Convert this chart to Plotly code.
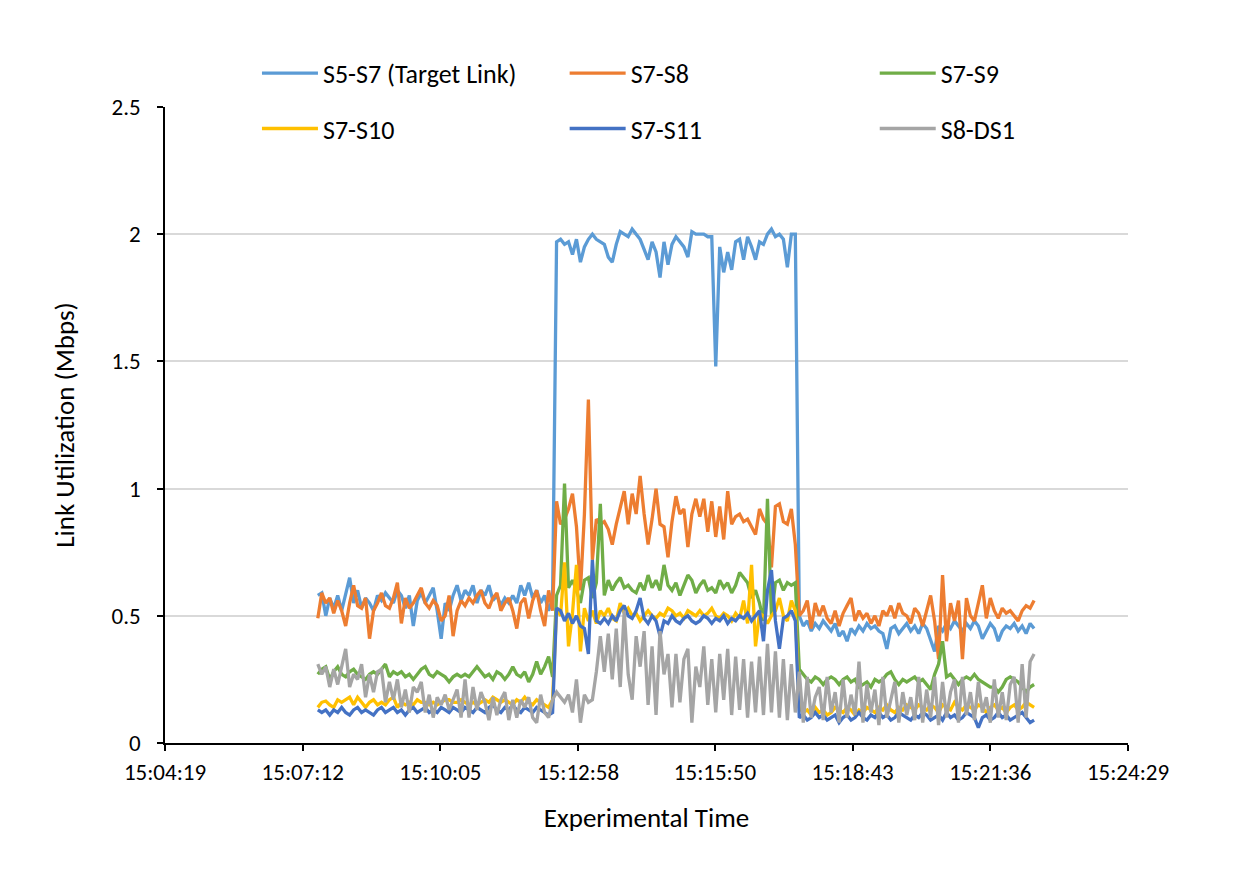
import plotly.graph_objects as go

# ---------------- data ----------------
x_tick_labels = ["15:04:19", "15:07:12", "15:10:05", "15:12:58", "15:15:50", "15:18:43", "15:21:36", "15:24:29"]
start_time = "15:07:31"   # first sample
step_seconds = 5          # sampling interval

s5_s7 = [
    0.58, 0.59, 0.50, 0.57, 0.53, 0.58, 0.52, 0.58, 0.65, 0.55,
    0.60, 0.53, 0.57, 0.55, 0.52, 0.58, 0.56, 0.59, 0.57, 0.55,
    0.60, 0.58, 0.53, 0.58, 0.46, 0.56, 0.59, 0.55, 0.58, 0.61,
    0.52, 0.41, 0.55, 0.52, 0.58, 0.62, 0.56, 0.60, 0.58, 0.62,
    0.55, 0.60, 0.58, 0.62, 0.56, 0.58, 0.54, 0.57, 0.55, 0.58,
    0.55, 0.62, 0.58, 0.63, 0.57, 0.60, 0.55, 0.58, 0.52, 0.57,
    1.97, 1.98, 1.96, 1.97, 1.92, 1.98, 1.89, 1.95, 1.98, 2.00,
    1.98, 1.97, 1.96, 1.91, 1.89, 1.96, 2.01, 2.00, 1.99, 2.02,
    2.00, 1.98, 1.94, 1.90, 1.97, 1.93, 1.83, 1.97, 1.88, 1.96,
    1.99, 1.97, 1.95, 1.91, 2.01, 2.00, 2.00, 2.00, 1.99, 1.99,
    1.48, 1.95, 1.85, 1.93, 1.86, 1.97, 1.98, 1.90, 1.99, 1.95,
    1.90, 1.97, 1.96, 2.00, 2.02, 1.99, 2.00, 1.98, 1.87, 2.00,
    2.00,
    0.50, 0.46, 0.48, 0.44, 0.47, 0.45, 0.48, 0.46, 0.44, 0.47,
    0.42, 0.44, 0.40, 0.45, 0.43, 0.46, 0.44, 0.47, 0.45, 0.46,
    0.44, 0.43, 0.37, 0.45, 0.46, 0.43, 0.45, 0.47, 0.44, 0.46,
    0.43, 0.47, 0.45, 0.40, 0.36, 0.46, 0.44, 0.47, 0.45, 0.48,
    0.46, 0.44, 0.47, 0.45, 0.48, 0.46, 0.41, 0.44, 0.47, 0.45,
    0.40, 0.44, 0.46, 0.45, 0.47, 0.44, 0.46, 0.43, 0.47, 0.45,
]

s7_s8 = [
    0.49, 0.59, 0.55, 0.57, 0.51, 0.56, 0.52, 0.46, 0.55, 0.62,
    0.54, 0.53, 0.57, 0.41, 0.52, 0.55, 0.59, 0.54, 0.53, 0.57,
    0.63, 0.47, 0.57, 0.53, 0.55, 0.58, 0.61, 0.55, 0.53, 0.56,
    0.54, 0.48, 0.50, 0.58, 0.42, 0.52, 0.56, 0.54, 0.57, 0.55,
    0.58, 0.60, 0.55, 0.53, 0.57, 0.59, 0.52, 0.55, 0.57, 0.52,
    0.45, 0.55, 0.57, 0.49, 0.56, 0.60, 0.52, 0.46, 0.60, 0.52,
    0.95, 0.86, 0.88, 0.92, 0.98, 0.85, 0.60, 0.90, 1.35, 0.72,
    0.88, 0.86, 0.87, 0.84, 0.78, 0.86, 0.92, 0.99, 0.86, 0.98,
    0.90, 1.05, 0.90, 0.78, 0.88, 1.00, 0.86, 0.85, 0.73, 0.87,
    0.97, 0.90, 0.92, 0.77, 0.90, 0.96, 0.89, 0.96, 0.83, 0.95,
    0.81, 0.93, 0.80, 0.99, 0.86, 0.89, 0.90, 0.87, 0.88, 0.85,
    0.82, 0.92, 0.88, 0.86, 0.69, 0.93, 0.94, 0.87, 0.86, 0.92,
    0.78,
    0.50, 0.52, 0.56, 0.45, 0.55, 0.50, 0.54, 0.49, 0.47, 0.52,
    0.46, 0.51, 0.54, 0.57, 0.48, 0.52, 0.49, 0.51, 0.47, 0.50,
    0.46, 0.52, 0.50, 0.54, 0.49, 0.55, 0.51, 0.50, 0.47, 0.53,
    0.51, 0.46, 0.52, 0.58, 0.48, 0.33, 0.66, 0.40, 0.55, 0.48,
    0.56, 0.33, 0.57, 0.50, 0.48, 0.55, 0.62, 0.49, 0.57, 0.52,
    0.49, 0.53, 0.51, 0.52, 0.50, 0.48, 0.52, 0.54, 0.53, 0.56,
]

s7_s9 = [
    0.27, 0.29, 0.30, 0.25, 0.28, 0.30, 0.27, 0.26, 0.28, 0.29,
    0.27, 0.26, 0.25, 0.27, 0.28, 0.27, 0.29, 0.31, 0.26, 0.28,
    0.27, 0.28, 0.26, 0.27, 0.25, 0.27, 0.29, 0.30, 0.27, 0.26,
    0.28, 0.27, 0.26, 0.24, 0.26, 0.27, 0.26, 0.27, 0.26, 0.28,
    0.30, 0.28, 0.26, 0.27, 0.25, 0.28, 0.27, 0.25, 0.27, 0.30,
    0.27, 0.26, 0.28, 0.24, 0.27, 0.32, 0.27, 0.30, 0.34, 0.26,
    0.58, 0.62, 1.02, 0.61, 0.64, 0.60, 0.55, 0.64, 0.65, 0.57,
    0.63, 0.94, 0.58, 0.64, 0.60, 0.63, 0.65, 0.61, 0.62, 0.60,
    0.59, 0.63, 0.60, 0.66, 0.61, 0.64, 0.60, 0.70, 0.62, 0.60,
    0.63, 0.58, 0.62, 0.66, 0.64, 0.59, 0.62, 0.64, 0.60, 0.61,
    0.59, 0.64, 0.61, 0.63, 0.59, 0.62, 0.67, 0.65, 0.63, 0.57,
    0.60, 0.55, 0.48, 0.96, 0.50, 0.63, 0.64, 0.60, 0.63, 0.62,
    0.63,
    0.29, 0.27, 0.25, 0.24, 0.26, 0.25, 0.23, 0.25, 0.26, 0.25,
    0.23, 0.25, 0.26, 0.24, 0.25, 0.22, 0.23, 0.24, 0.22, 0.25,
    0.24, 0.25, 0.27, 0.28, 0.25, 0.23, 0.25, 0.24, 0.25, 0.26,
    0.24, 0.25, 0.23, 0.21, 0.27, 0.31, 0.40, 0.26, 0.27, 0.25,
    0.23, 0.25, 0.26, 0.25, 0.27, 0.25, 0.24, 0.23, 0.22, 0.22,
    0.20, 0.22, 0.25, 0.26, 0.25, 0.24, 0.22, 0.20, 0.22, 0.23,
]

s7_s10 = [
    0.14, 0.16, 0.165, 0.15, 0.14, 0.17, 0.16, 0.17, 0.18, 0.15,
    0.18, 0.16, 0.14, 0.16, 0.17, 0.15, 0.16, 0.15, 0.17, 0.18,
    0.14, 0.16, 0.15, 0.16, 0.15, 0.17, 0.16, 0.16, 0.15, 0.16,
    0.15, 0.16, 0.17, 0.17, 0.16, 0.16, 0.17, 0.16, 0.15, 0.16,
    0.15, 0.16, 0.17, 0.16, 0.18, 0.17, 0.16, 0.17, 0.16, 0.15,
    0.17, 0.16, 0.18, 0.16, 0.15, 0.17, 0.16, 0.15, 0.14, 0.17,
    0.53, 0.50, 0.71, 0.38, 0.51, 0.70, 0.36, 0.53, 0.48, 0.52,
    0.47, 0.52, 0.50, 0.53, 0.49, 0.48, 0.55, 0.51, 0.53, 0.50,
    0.51, 0.48, 0.50, 0.52, 0.50, 0.49, 0.51, 0.50, 0.53, 0.52,
    0.50, 0.51, 0.49, 0.52, 0.51, 0.50, 0.52, 0.50, 0.51, 0.53,
    0.50, 0.49, 0.51, 0.50, 0.48, 0.51, 0.49, 0.56, 0.47, 0.70,
    0.38, 0.51, 0.50, 0.47, 0.50, 0.52, 0.57, 0.50, 0.48, 0.56,
    0.52,
    0.14, 0.12, 0.13, 0.11, 0.14, 0.12, 0.13, 0.11, 0.12, 0.14,
    0.13, 0.12, 0.14, 0.13, 0.11, 0.13, 0.12, 0.14, 0.13, 0.12,
    0.14, 0.13, 0.15, 0.13, 0.12, 0.14, 0.13, 0.15, 0.14, 0.13,
    0.15, 0.14, 0.13, 0.15, 0.14, 0.12, 0.15, 0.14, 0.13, 0.16,
    0.14, 0.13, 0.15, 0.14, 0.13, 0.15, 0.14, 0.12, 0.14, 0.15,
    0.13, 0.14, 0.12, 0.14, 0.15, 0.13, 0.14, 0.16, 0.15, 0.14,
]

s7_s11 = [
    0.13, 0.12, 0.13, 0.11, 0.13, 0.12, 0.14, 0.12, 0.11, 0.13,
    0.14, 0.12, 0.13, 0.12, 0.11, 0.13, 0.14, 0.12, 0.13, 0.14,
    0.12, 0.13, 0.11, 0.13, 0.14, 0.12, 0.13, 0.14, 0.12, 0.13,
    0.12, 0.14, 0.13, 0.12, 0.14, 0.13, 0.12, 0.14, 0.13, 0.12,
    0.14, 0.13, 0.12, 0.14, 0.15, 0.13, 0.12, 0.14, 0.13, 0.15,
    0.13, 0.12, 0.14, 0.13, 0.12, 0.14, 0.13, 0.12, 0.11, 0.12,
    0.53, 0.52, 0.48, 0.51, 0.47, 0.50, 0.46, 0.45, 0.35, 0.72,
    0.48, 0.47, 0.49, 0.47, 0.50, 0.48, 0.52, 0.54, 0.50, 0.49,
    0.52, 0.57, 0.49, 0.47, 0.50, 0.48, 0.42, 0.48, 0.47, 0.50,
    0.48, 0.47, 0.49, 0.50, 0.48, 0.47, 0.48, 0.50, 0.49, 0.47,
    0.49, 0.48, 0.50, 0.47, 0.49, 0.48, 0.50, 0.49, 0.51, 0.48,
    0.50, 0.52, 0.40, 0.60, 0.68, 0.48, 0.37, 0.49, 0.50, 0.52,
    0.48,
    0.10, 0.11, 0.09, 0.10, 0.12, 0.10, 0.11, 0.09, 0.10, 0.11,
    0.08, 0.10, 0.11, 0.09, 0.10, 0.12, 0.10, 0.09, 0.11, 0.10,
    0.12, 0.10, 0.11, 0.09, 0.10, 0.12, 0.11, 0.10, 0.09, 0.11,
    0.10, 0.12, 0.11, 0.09, 0.10, 0.11, 0.09, 0.12, 0.10, 0.11,
    0.09, 0.10, 0.12, 0.11, 0.10, 0.06, 0.10, 0.11, 0.09, 0.10,
    0.12, 0.10, 0.11, 0.09, 0.10, 0.11, 0.12, 0.10, 0.08, 0.09,
]

s8_ds1 = [
    0.31, 0.27, 0.30, 0.22, 0.29, 0.23, 0.30, 0.37, 0.22, 0.27,
    0.25, 0.31, 0.18, 0.27, 0.20, 0.28, 0.29, 0.16, 0.24, 0.17,
    0.25, 0.14, 0.21, 0.12, 0.22, 0.20, 0.24, 0.12, 0.19, 0.10,
    0.18, 0.15, 0.19, 0.13, 0.17, 0.21, 0.10, 0.25, 0.10, 0.22,
    0.13, 0.20, 0.16, 0.09, 0.18, 0.11, 0.17, 0.20, 0.09, 0.17,
    0.10, 0.17, 0.14, 0.18, 0.10, 0.08, 0.19, 0.12, 0.10, 0.17,
    0.20, 0.18, 0.16, 0.19, 0.12, 0.25, 0.08, 0.19, 0.16, 0.17,
    0.28, 0.42, 0.28, 0.43, 0.25, 0.45, 0.22, 0.52, 0.27, 0.17,
    0.42, 0.30, 0.44, 0.15, 0.38, 0.11, 0.44, 0.27, 0.35, 0.14,
    0.35, 0.16, 0.33, 0.37, 0.08, 0.30, 0.22, 0.38, 0.15, 0.33,
    0.12, 0.35, 0.17, 0.37, 0.11, 0.34, 0.13, 0.33, 0.10, 0.32,
    0.12, 0.34, 0.11, 0.39, 0.12, 0.36, 0.10, 0.33, 0.09, 0.31,
    0.12,
    0.28, 0.08, 0.26, 0.10, 0.18, 0.22, 0.09, 0.26, 0.12, 0.20,
    0.08, 0.25, 0.10, 0.19, 0.11, 0.32, 0.08, 0.23, 0.12, 0.21,
    0.07, 0.26, 0.10, 0.17, 0.24, 0.08, 0.20, 0.11, 0.18, 0.09,
    0.26, 0.08, 0.21, 0.10, 0.26, 0.07, 0.24, 0.10, 0.20, 0.25,
    0.08, 0.26, 0.11, 0.20, 0.09, 0.24, 0.12, 0.18, 0.08, 0.25,
    0.10, 0.20, 0.09, 0.23, 0.26, 0.08, 0.31, 0.10, 0.32, 0.35,
]

series_names = ["S5-S7 (Target Link)", "S7-S8", "S7-S9", "S7-S10", "S7-S11", "S8-DS1"]
series_values = [s5_s7, s7_s8, s7_s9, s7_s10, s7_s11, s8_ds1]
series_colors = ["#5B9BD5", "#ED7D31", "#70AD47", "#FFC000", "#4472C4", "#A5A5A5"]


def to_seconds(label):
    h, m, s = (int(v) for v in label.split(":"))
    return h * 3600 + m * 60 + s


t0 = to_seconds(start_time)
tick_vals = [to_seconds(t) for t in x_tick_labels]

FONT = "Calibri, Carlito, Lato, sans-serif"
TICK_SIZE = 23
LEGEND_SIZE = 26
TITLE_SIZE = 27

fig = go.Figure()

# legend placement: 3 columns x 2 rows, each entry in its own legend box
legend_cols = [0.0955, 0.415, 0.737]
legend_rows = [1.053, 0.966]
legend_names = ["legend", "legend2", "legend3", "legend4", "legend5", "legend6"]

for k, (name, vals, col) in enumerate(zip(series_names, series_values, series_colors)):
    xs = [t0 + i * step_seconds for i in range(len(vals))]
    fig.add_trace(go.Scatter(
        x=xs, y=vals, mode="lines", name=name,
        line=dict(color=col, width=3.3),
        legend=legend_names[k],
    ))

legend_layout = {}
for k, lname in enumerate(legend_names):
    legend_layout[lname] = dict(
        x=legend_cols[k % 3], y=legend_rows[k // 3],
        xanchor="left", yanchor="middle",
        bgcolor="rgba(0,0,0,0)", borderwidth=0,
        font=dict(family=FONT, size=LEGEND_SIZE, color="#000000"),
        itemwidth=56, tracegroupgap=0,
    )

fig.update_layout(
    width=1241, height=874,
    margin=dict(l=165, r=113, t=107, b=131),
    paper_bgcolor="white", plot_bgcolor="white",
    font=dict(family=FONT, size=TICK_SIZE, color="#000000"),
    showlegend=True,
    **legend_layout,
)

fig.update_xaxes(
    range=[tick_vals[0], tick_vals[-1]],
    tickmode="array", tickvals=tick_vals, ticktext=x_tick_labels,
    showgrid=False, zeroline=False,
    showline=True, linecolor="#000000", linewidth=1.5,
    ticks="outside", ticklen=6, tickcolor="#000000", tickwidth=1.5,
    ticklabelstandoff=2,
    tickfont=dict(family=FONT, size=TICK_SIZE, color="#000000"),
    title=dict(text="Experimental Time", font=dict(family=FONT, size=TITLE_SIZE, color="#000000"), standoff=23),
)

fig.update_yaxes(
    range=[0, 2.5], dtick=0.5, tick0=0,
    showgrid=True, gridcolor="#D9D9D9", gridwidth=1.5,
    zeroline=False,
    showline=True, linecolor="#000000", linewidth=1.5,
    ticks="outside", ticklen=6, tickcolor="#000000", tickwidth=1.5,
    ticklabelstandoff=12,
    tickfont=dict(family=FONT, size=TICK_SIZE, color="#000000"),
    title=dict(text="Link Utilization (Mbps)", font=dict(family=FONT, size=TITLE_SIZE, color="#000000"), standoff=29),
)

fig.write_html("out.html")
